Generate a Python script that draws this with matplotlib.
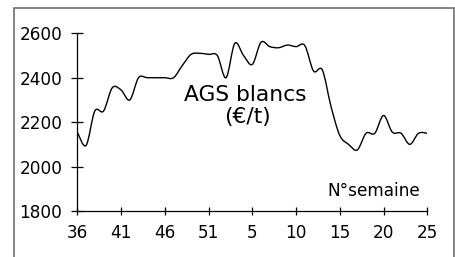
import matplotlib
matplotlib.use("Agg")
import matplotlib.pyplot as plt
from matplotlib.path import Path
from matplotlib.patches import PathPatch, Rectangle
import numpy as np

# ---- data ----
week_labels = [36, 37, 38, 39, 40, 41, 42, 43, 44, 45, 46, 47, 48, 49, 50, 51, 52,
               1, 2, 3, 4, 5, 6, 7, 8, 9, 10, 11, 12, 13, 14, 15, 16, 17, 18, 19, 20,
               21, 22, 23, 24]
prices = [2155, 2095, 2250, 2250, 2355, 2345, 2300, 2400, 2400, 2400, 2400, 2400,
          2455, 2505, 2510, 2505, 2500, 2400, 2555, 2500, 2460, 2560, 2540, 2535,
          2547, 2540, 2545, 2430, 2435, 2270, 2140, 2100, 2075, 2150, 2150, 2230,
          2155, 2150, 2100, 2150, 2150]
tick_labels = ["36", "41", "46", "51", "5", "10", "15", "20", "25"]
y_ticks = [1800, 2000, 2200, 2400, 2600]
title_line1 = "AGS blancs"
title_line2 = "(€/t)"
x_label = "N°semaine"

plt.rcParams['font.family'] = ['DejaVu Sans']

W, H = 456, 257
fig = plt.figure(figsize=(W / 100, H / 100), dpi=100)
fig.patch.set_facecolor("white")

# outer frame (extends below the bottom edge)
fig.patches.append(Rectangle((14 / W, -0.05), (454 - 14) / W, 1.05 - 8 / H,
                             transform=fig.transFigure, fill=False,
                             edgecolor="#6e6e6e", linewidth=1.2))

left, right = 77.3 / W, 427.3 / W
bottom, top = 1 - 211 / H, 1 - 33.3 / H
ax = fig.add_axes([left, bottom, right - left, top - bottom])
ax.set_facecolor("none")

x = np.arange(len(prices), dtype=float)
y = np.array(prices, dtype=float)

# smoothed line (Catmull-Rom style Bezier, like spreadsheet smoothing)
pts = np.column_stack([x, y])
ext = np.vstack([pts[0], pts, pts[-1]])
verts = [tuple(pts[0])]
codes = [Path.MOVETO]
for i in range(len(pts) - 1):
    p0, p1, p2, p3 = ext[i], ext[i + 1], ext[i + 2], ext[i + 3]
    c1 = p1 + (p2 - p0) / 6.0
    c2 = p2 - (p3 - p1) / 6.0
    verts += [tuple(c1), tuple(c2), tuple(p2)]
    codes += [Path.CURVE4] * 3
ax.add_patch(PathPatch(Path(verts, codes), fill=False, edgecolor="black",
                       linewidth=1.0, transform=ax.transData, capstyle="round",
                       joinstyle="round"))

ax.set_xlim(0, len(prices) - 1)
ax.set_ylim(1800, 2600)
ax.set_xticks(np.arange(0, len(prices), 5))
ax.set_xticklabels(tick_labels)
ax.set_yticks(y_ticks)
ax.set_yticklabels([str(v) for v in y_ticks])

for s in ("top", "right"):
    ax.spines[s].set_visible(False)
for s in ("left", "bottom"):
    ax.spines[s].set_linewidth(0.9)
    ax.spines[s].set_color("black")

ax.tick_params(axis="y", direction="inout", length=8.6, width=0.9,
               pad=6.5, labelsize=12.2, colors="black")
ax.tick_params(axis="x", direction="inout", length=6, width=0.9,
               pad=6.0, labelsize=12.2, colors="black")

ax.text(19.2, 2293, title_line1, ha="center", va="baseline", fontsize=15.7)
ax.text(19.5, 2197, title_line2, ha="center", va="baseline", fontsize=15.7)
ax.text(39.2, 1868, x_label, ha="right", va="baseline", fontsize=12.2)

fig.savefig("out.png", dpi=100, facecolor="white")
